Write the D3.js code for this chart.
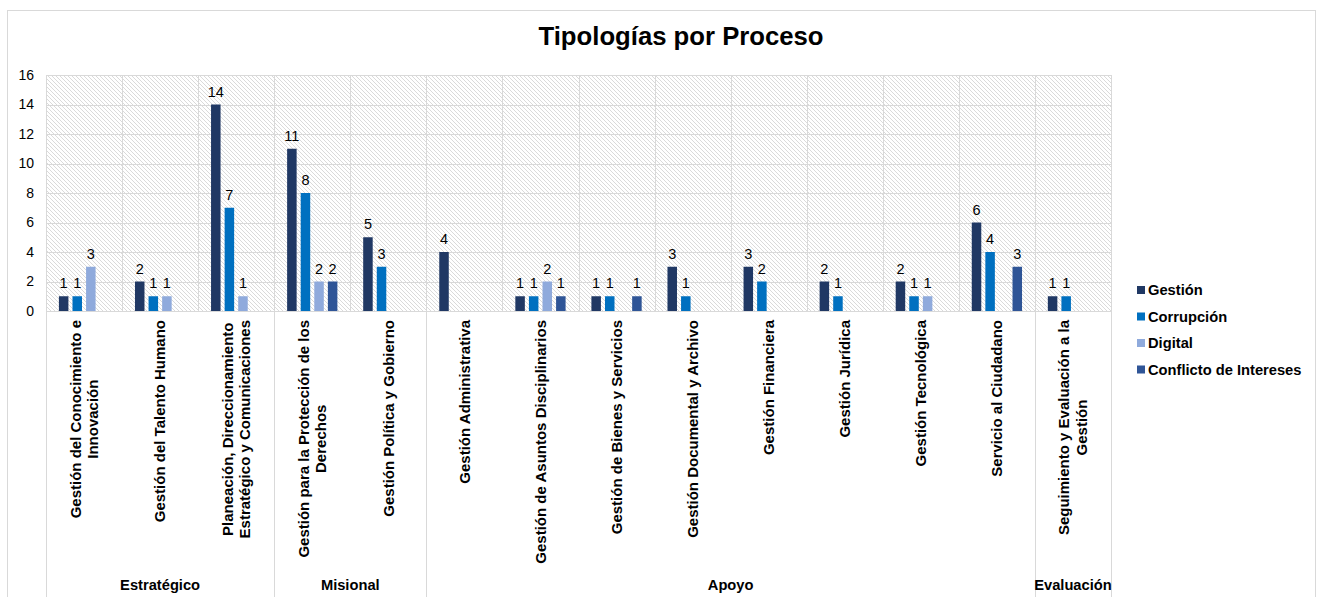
<!DOCTYPE html>
<html>
<head>
<meta charset="utf-8">
<script src="https://cdn.jsdelivr.net/npm/d3@7"></script>
<style>
  body { margin: 0; background: #fff; }
  svg { font-family: "Liberation Sans", Arial, sans-serif; }
</style>
</head>
<body>
<svg id="chart" width="1317" height="597"></svg>
<script>
// categories (label lines) and their process group
const categories = [
    ["Gestión del Conocimiento e", "Innovación"],
    ["Gestión del Talento Humano"],
    ["Planeación, Direccionamiento", "Estratégico y Comunicaciones"],
    ["Gestión para la Protección de los", "Derechos"],
    ["Gestión Política y Gobierno"],
    ["Gestión Administrativa"],
    ["Gestión de Asuntos Disciplinarios"],
    ["Gestión de Bienes y Servicios"],
    ["Gestión Documental y Archivo"],
    ["Gestión Financiera"],
    ["Gestión Jurídica"],
    ["Gestión Tecnológica"],
    ["Servicio al Ciudadano"],
    ["Seguimiento y Evaluación a la", "Gestión"]
];
const groups = [
    { name: "Estratégico", start: 0, end: 2 },
    { name: "Misional", start: 3, end: 4 },
    { name: "Apoyo", start: 5, end: 12 },
    { name: "Evaluación", start: 13, end: 13 }
];
const series = ["Gestión", "Corrupción", "Digital", "Conflicto de Intereses"];
const colors = ["#203864", "#0070C0", "#8FAADC", "#2F5597"];

// values per series, null = no bar
const gestion    = [1, 2, 14, 11, 5, 4, 1, 1, 3, 3, 2, 2, 6, 1];
const corrupcion = [1, 1, 7, 8, 3, null, 1, 1, 1, 2, 1, 1, 4, 1];
const digital    = [3, 1, 1, 2, null, null, 2, null, null, null, null, 1, null, null];
const conflicto  = [null, null, null, 2, null, null, 1, 1, null, null, null, null, 3, null];
const yTicks = [0, 2, 4, 6, 8, 10, 12, 14, 16];

(() => {
const values = [gestion, corrupcion, digital, conflicto];

const svg = d3.select("#chart");
const pLeft = 46, pRight = 1111, pTop = 75, pBottom = 311;

// outer border
svg.append("rect")
    .attr("x", 7.5).attr("y", 10.5)
    .attr("width", 1308).attr("height", 600)
    .attr("fill", "#fff")
    .attr("stroke", "#d9d9d9");

// hatch pattern
const defs = svg.append("defs");
const pat = defs.append("pattern")
    .attr("id", "hatch")
    .attr("patternUnits", "userSpaceOnUse")
    .attr("width", 4).attr("height", 4);
pat.append("rect").attr("width", 4).attr("height", 4).attr("fill", "#fff");
pat.append("path")
    .attr("d", "M-1,-1 L5,5 M-1,3 L1,5 M3,-1 L5,1")
    .attr("stroke", "#d6d6d6")
    .attr("stroke-width", 0.9);

const x = d3.scaleBand()
    .domain(d3.range(categories.length))
    .range([pLeft, pRight]);

const x1 = d3.scaleBand()
    .domain(series)
    .range([0, x.bandwidth()])
    .paddingInner(0.3)
    .paddingOuter(0.95);

const y = d3.scaleLinear().domain([0, 16]).range([pBottom, pTop]);

svg.append("rect")
    .attr("x", pLeft).attr("y", pTop)
    .attr("width", pRight - pLeft).attr("height", pBottom - pTop)
    .attr("fill", "url(#hatch)");

// horizontal gridlines
svg.append("g")
    .selectAll("line")
    .data(yTicks)
    .enter()
    .append("line")
    .attr("x1", pLeft).attr("x2", pRight)
    .attr("y1", d => Math.round(y(d)) + 0.5)
    .attr("y2", d => Math.round(y(d)) + 0.5)
    .attr("stroke", "#d9d9d9");

const xEdge = d => Math.round(d === categories.length ? pRight : x(d)) + 0.5;

// vertical gridlines inside the plot
svg.append("g")
    .selectAll("line")
    .data(d3.range(categories.length + 1))
    .enter()
    .append("line")
    .attr("x1", xEdge).attr("x2", xEdge)
    .attr("y1", pTop).attr("y2", pBottom)
    .attr("stroke", "#d9d9d9");

// group dividers below the axis
const dividers = [0].concat(groups.map(g => g.end + 1));
svg.append("g")
    .selectAll("line")
    .data(dividers)
    .enter()
    .append("line")
    .attr("x1", xEdge).attr("x2", xEdge)
    .attr("y1", pBottom).attr("y2", 597)
    .attr("stroke", "#d9d9d9");

// y axis labels
const yAxis = d3.axisLeft(y).tickValues(yTicks).tickSize(0).tickPadding(12);
const ya = svg.append("g").attr("transform", `translate(${pLeft},0)`).call(yAxis);
ya.select(".domain").remove();
ya.selectAll("text")
    .attr("font-size", "14px")
    .attr("font-family", "Liberation Sans, Arial, sans-serif")
    .attr("fill", "#000");

// bars
const bars = [];
values.forEach((vals, s) => {
    vals.forEach((v, i) => {
        if (v !== null) bars.push({ cat: i, s: s, v: v });
    });
});

svg.append("g")
    .selectAll("rect")
    .data(bars)
    .enter()
    .append("rect")
    .attr("x", d => x(d.cat) + x1(series[d.s]))
    .attr("width", x1.bandwidth())
    .attr("y", d => y(d.v))
    .attr("height", d => y(0) - y(d.v))
    .attr("fill", d => colors[d.s]);

svg.append("g")
    .selectAll("text")
    .data(bars)
    .enter()
    .append("text")
    .attr("x", d => x(d.cat) + x1(series[d.s]) + x1.bandwidth() / 2)
    .attr("y", d => y(d.v) - 8)
    .attr("text-anchor", "middle")
    .attr("font-size", "14.5px")
    .attr("fill", "#000")
    .text(d => d.v);

// category labels (rotated)
const catG = svg.append("g");
categories.forEach((lines, i) => {
    const cx = x(i) + x.bandwidth() / 2;
    const t = catG.append("text")
        .attr("transform", `translate(${cx},320) rotate(-90)`)
        .attr("font-size", "15px")
        .attr("font-weight", "bold")
        .attr("text-anchor", "middle")
        .attr("fill", "#000");
    const n = lines.length;
    const spans = lines.map((l, k) => t.append("tspan")
        .attr("x", 0)
        .attr("y", (k - (n - 1) / 2) * 17.5)
        .attr("dy", "0.35em")
        .text(l));
    const maxLen = d3.max(spans, s => s.node().getComputedTextLength());
    spans.forEach(s => s.attr("x", -maxLen / 2));
});

// group labels
svg.append("g")
    .selectAll("text")
    .data(groups)
    .enter()
    .append("text")
    .attr("x", d => (x(d.start) + x(d.end) + x.bandwidth()) / 2)
    .attr("y", 590)
    .attr("text-anchor", "middle")
    .attr("font-size", "14.7px")
    .attr("font-weight", "bold")
    .attr("fill", "#000")
    .text(d => d.name);

// title
svg.append("text")
    .attr("x", 681)
    .attr("y", 45)
    .attr("text-anchor", "middle")
    .attr("font-size", "25.7px")
    .attr("font-weight", "bold")
    .attr("fill", "#000")
    .text("Tipologías por Proceso");

// legend
const legend = svg.append("g").attr("transform", "translate(1137,290)");
const item = legend.selectAll("g")
    .data(series)
    .enter()
    .append("g")
    .attr("transform", (d, i) => `translate(0,${i * 26.5})`);
item.append("rect")
    .attr("x", 0).attr("y", -4)
    .attr("width", 8).attr("height", 8)
    .attr("fill", (d, i) => colors[i]);
item.append("text")
    .attr("x", 11)
    .attr("y", 0)
    .attr("dy", "0.35em")
    .attr("font-size", "14.7px")
    .attr("font-weight", "bold")
    .attr("fill", "#000")
    .text(d => d);
})();
</script>
</body>
</html>
